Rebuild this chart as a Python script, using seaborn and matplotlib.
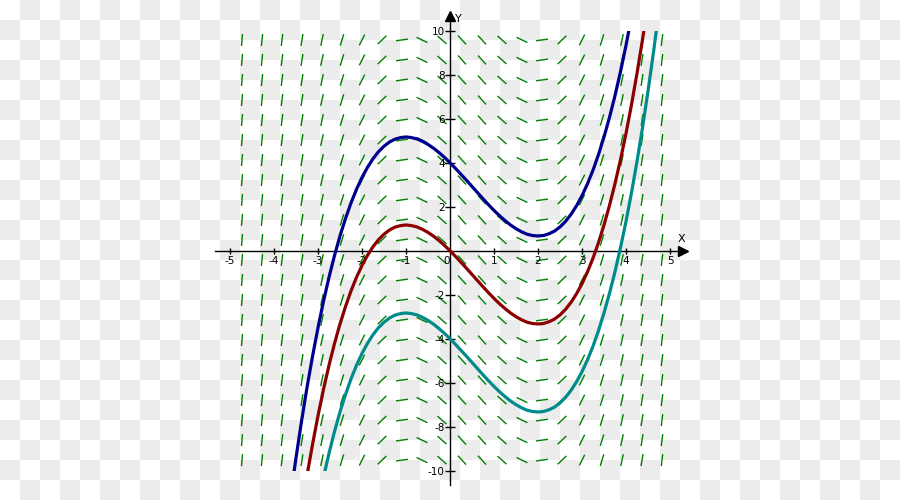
import numpy as np
import pandas as pd
import matplotlib
matplotlib.use("Agg")
import matplotlib.pyplot as plt
from matplotlib.collections import LineCollection
from matplotlib.colors import ListedColormap
from matplotlib.patches import Rectangle
import seaborn as sns

# ---------------- data ----------------
# solution curves, shared x positions
curve_x = [-3.75, -3.625, -3.5, -3.375, -3.25, -3.125, -3.0, -2.875, -2.75, -2.625,
           -2.5, -2.375, -2.25, -2.125, -2.0, -1.875, -1.75, -1.625, -1.5, -1.375,
           -1.25, -1.125, -1.0, -0.875, -0.75, -0.625, -0.5, -0.375, -0.25, -0.125,
           0.0, 0.125, 0.25, 0.375, 0.5, 0.625, 0.75, 0.875, 1.0, 1.125,
           1.25, 1.375, 1.5, 1.625, 1.75, 1.875, 2.0, 2.125, 2.25, 2.375,
           2.5, 2.625, 2.75, 2.875, 3.0, 3.125, 3.25, 3.375, 3.5, 3.625,
           3.75, 3.875, 4.0, 4.125, 4.25, 4.375, 4.5, 4.625, 4.75]
blue_y = [-13.11, -11.20, -9.42, -7.76, -6.22, -4.81, -3.50, -2.30, -1.21, -0.22,
          0.67, 1.46, 2.17, 2.79, 3.33, 3.79, 4.18, 4.50, 4.75, 4.94,
          5.07, 5.14, 5.17, 5.14, 5.08, 4.97, 4.83, 4.66, 4.46, 4.24,
          4.00, 3.74, 3.47, 3.20, 2.92, 2.64, 2.36, 2.09, 1.83, 1.59,
          1.37, 1.17, 1.00, 0.86, 0.75, 0.69, 0.67, 0.69, 0.77, 0.89,
          1.08, 1.33, 1.65, 2.04, 2.50, 3.04, 3.66, 4.37, 5.17, 6.06,
          7.05, 8.14, 9.33, 10.64, 12.06, 13.59, 15.25, 17.03, 18.94]
red_y = [-17.11, -15.20, -13.42, -11.76, -10.22, -8.81, -7.50, -6.30, -5.21, -4.22,
         -3.33, -2.54, -1.83, -1.21, -0.67, -0.21, 0.18, 0.50, 0.75, 0.94,
         1.07, 1.14, 1.17, 1.14, 1.08, 0.97, 0.83, 0.66, 0.46, 0.24,
         0.00, -0.26, -0.53, -0.80, -1.08, -1.36, -1.64, -1.91, -2.17, -2.41,
         -2.63, -2.83, -3.00, -3.14, -3.25, -3.31, -3.33, -3.31, -3.23, -3.11,
         -2.92, -2.67, -2.35, -1.96, -1.50, -0.96, -0.34, 0.37, 1.17, 2.06,
         3.05, 4.14, 5.33, 6.64, 8.06, 9.59, 11.25, 13.03, 14.94]
teal_y = [-21.11, -19.20, -17.42, -15.76, -14.22, -12.81, -11.50, -10.30, -9.21, -8.22,
          -7.33, -6.54, -5.83, -5.21, -4.67, -4.21, -3.82, -3.50, -3.25, -3.06,
          -2.93, -2.86, -2.83, -2.86, -2.92, -3.03, -3.17, -3.34, -3.54, -3.76,
          -4.00, -4.26, -4.53, -4.80, -5.08, -5.36, -5.64, -5.91, -6.17, -6.41,
          -6.63, -6.83, -7.00, -7.14, -7.25, -7.31, -7.33, -7.31, -7.23, -7.11,
          -6.92, -6.67, -6.35, -5.96, -5.50, -4.96, -4.34, -3.63, -2.83, -1.94,
          -0.95, 0.14, 1.33, 2.64, 4.06, 5.59, 7.25, 9.03, 10.94]

# slope field (direction field) grid and slopes per column
field_x = [-4.727, -4.273, -3.818, -3.364, -2.909, -2.455, -2.0, -1.545, -1.091, -0.636,
           -0.182, 0.273, 0.727, 1.182, 1.636, 2.091, 2.545, 3.0, 3.455, 3.909, 4.364, 4.818]
field_slope = [25.07, 20.53, 16.40, 12.68, 9.37, 6.48, 4.0, 1.93, 0.28, -0.96, -1.785,
               -2.20, -2.20, -1.785, -0.96, 0.28, 1.93, 4.0, 6.48, 9.37, 12.68, 16.40]
field_y = [9.58, 8.67, 7.76, 6.85, 5.94, 5.03, 4.12, 3.21, 2.31, 1.40, 0.49, -0.42,
           -1.33, -2.24, -3.15, -4.06, -4.97, -5.88, -6.79, -7.70, -8.61, -9.52]

x_ticks = [-5, -4, -3, -2, -1, 1, 2, 3, 4, 5]
y_ticks = [-10, -8, -6, -4, -2, 2, 4, 6, 8, 10]

# ---------------- figure ----------------
W, H, DPI = 900, 500, 100
fig = plt.figure(figsize=(W / DPI, H / DPI), dpi=DPI)

# checkerboard background (20 px squares)
bg = fig.add_axes([0, 0, 1, 1], zorder=0)
nx, ny = W // 20 + 1, H // 20 + 1
xe = np.arange(nx + 1) * 20
ye = np.arange(ny + 1) * 20
jj, ii = np.mgrid[0:ny, 0:nx]
board = ((ii + jj) % 2).astype(float)
bg.pcolormesh(xe, ye, board, cmap=ListedColormap(["#ffffff", "#ececec"]),
              vmin=0, vmax=1, shading="flat", edgecolors="none", antialiased=False)
bg.set_xlim(0, W)
bg.set_ylim(H, 0)
bg.axis("off")

ax = fig.add_axes([0, 0, 1, 1], zorder=1)
ax.patch.set_alpha(0)
XL = (-10.227, 10.227)
YL = (-11.332, 11.395)
ax.set_xlim(*XL)
ax.set_ylim(*YL)

px_x = W / (XL[1] - XL[0])
px_y = H / (YL[1] - YL[0])

# slope field segments
half = 6.0  # pixels
segs = []
for xc, s in zip(field_x, field_slope):
    t = half / np.hypot(px_x, px_y * s)
    for yc in field_y:
        segs.append([(xc - t, yc - t * s), (xc + t, yc + t * s)])
ax.add_collection(LineCollection(segs, colors="#008000", linewidths=1.0, zorder=1))

# solution curves with seaborn
df = pd.concat([
    pd.DataFrame({"x": curve_x, "y": blue_y, "curve": "C=4"}),
    pd.DataFrame({"x": curve_x, "y": red_y, "curve": "C=0"}),
    pd.DataFrame({"x": curve_x, "y": teal_y, "curve": "C=-4"}),
])
palette = {"C=4": "#00008f", "C=0": "#8b0000", "C=-4": "#008b8b"}
sns.lineplot(data=df, x="x", y="y", hue="curve", palette=palette, sort=False,
             estimator=None, linewidth=2.3, legend=False, ax=ax, zorder=4)
clip = Rectangle((-6, -10), 12, 20, transform=ax.transData)
for ln in ax.lines:
    ln.set_clip_path(clip)
    ln.set_solid_capstyle("butt")
    ln.set_solid_joinstyle("round")
ax.set_xlabel("")
ax.set_ylabel("")
ax.set_xlim(*XL)
ax.set_ylim(*YL)

# axes through origin
for side in ("top", "right"):
    ax.spines[side].set_visible(False)
ax.spines["bottom"].set_position(("data", 0))
ax.spines["left"].set_position(("data", 0))
ax.spines["bottom"].set_bounds(-5.34, 5.25)
ax.spines["left"].set_bounds(-10.65, 10.45)
for sp in ("bottom", "left"):
    ax.spines[sp].set_linewidth(1.0)
    ax.spines[sp].set_color("black")
    ax.spines[sp].set_zorder(3)

ax.set_xticks(x_ticks)
ax.set_xticklabels([str(v) for v in x_ticks])
ax.set_yticks(y_ticks)
ax.set_yticklabels([str(v) for v in y_ticks])
ax.tick_params(axis="x", direction="inout", length=4.5, width=1, pad=1.5,
               labelsize=7.5, colors="black")
ax.tick_params(axis="y", direction="inout", length=6.5, width=1, pad=0.5,
               labelsize=7.5, colors="black")

# arrows and axis names
ax.plot([5.3], [0], marker=">", color="black", markersize=7, clip_on=False, zorder=3)
ax.plot([0], [10.65], marker="^", color="black", markersize=7, clip_on=False, zorder=3)
ax.text(5.27, 0.53, "X", ha="center", va="center", fontsize=8)
ax.text(0.2, 10.53, "Y", ha="center", va="center", fontsize=8)
ax.text(-0.07, -0.24, "0", ha="center", va="top", fontsize=7.5)

fig.savefig("out.png", dpi=DPI)
